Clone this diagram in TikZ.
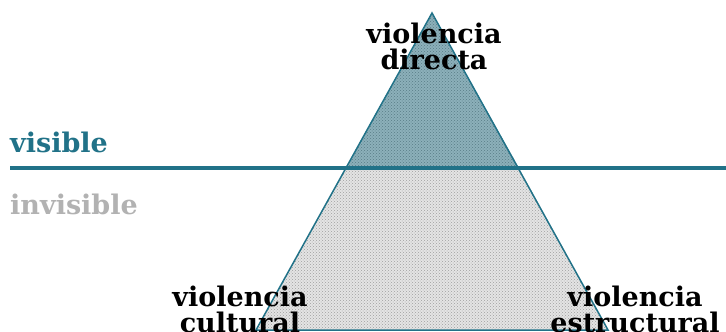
\documentclass[tikz,border=0pt]{standalone}
\usepackage{fontspec}
\setmainfont{DejaVu Serif}
\usetikzlibrary{patterns}
\definecolor{linea}{RGB}{33,114,136}
\definecolor{arriba}{RGB}{140,176,186}
\definecolor{puntos}{RGB}{88,124,134}
\definecolor{abajo}{RGB}{228,228,228}
\definecolor{gris}{RGB}{178,178,178}
\begin{document}
\begin{tikzpicture}[x=1pt,y=-1pt,
    lbl/.style ={font=\bfseries\fontsize{27}{25.5}\selectfont, align=center, inner sep=0pt},
    side/.style ={draw=linea, line width=1.5pt}]
  \useasboundingbox (0,0) rectangle (726,332);
  % triangle corners and cut with the line
  \coordinate (a) at (432,13);
  \coordinate (b) at (256,330);
  \coordinate (c) at (608,330);
  \coordinate (l) at (346,168);
  \coordinate (r) at (519,168);
  \coordinate (w) at (10,168);
  \coordinate (e) at (726,168);
  % lower part
  \fill[abajo] (l) -- (r) -- (c) -- (b) -- cycle;
  \fill[pattern=crosshatch dots, pattern color=gray!75] (l) -- (r) -- (c) -- (b) -- cycle;
  % upper part
  \fill[arriba] (a) -- (r) -- (l) -- cycle;
  \fill[pattern=crosshatch dots, pattern color=puntos] (a) -- (r) -- (l) -- cycle;
  \draw[side] (a) -- (b) -- (c) -- cycle;
  \draw[linea, line width=4pt] (w) -- (e);
  % labels
  \node[lbl, anchor=north] (d) at (434,23) {violencia\\directa};
  \node[lbl, anchor=north] (cu) at (240,286) {violencia\\cultural};
  \node[lbl, anchor=north] (es) at (635,286) {violencia\\estructural};
  \node[lbl, anchor=base west, text=linea] (v) at (10,152) {visible};
  \node[lbl, anchor=base west, text=gris] (i) at (10,214) {invisible};
\end{tikzpicture}
\end{document}
